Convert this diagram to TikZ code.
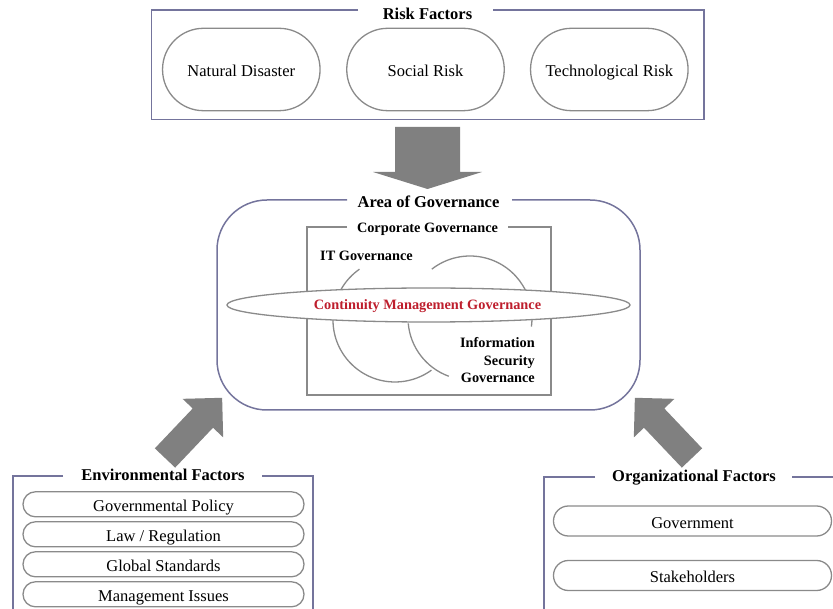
\documentclass[tikz,border=0pt]{standalone}
\usepackage{fontspec}
\setmainfont{Liberation Serif}
\usetikzlibrary{shapes.geometric}
\definecolor{framec}{HTML}{74749C}
\definecolor{linec}{HTML}{8A8A8A}
\definecolor{arrowc}{HTML}{808080}
\definecolor{cmgred}{HTML}{BE1E2D}
\begin{document}
\begin{tikzpicture}[x=1pt,y=-1pt,
  bluframe/.style={draw=framec, line width=1.5pt},
  grayline/.style={draw=linec, line width=1.3pt},
  frametitle/.style={font=\fontsize{16.5}{19}\selectfont\bfseries, inner sep=0pt, anchor=base},
  innerlabel/.style={font=\fontsize{14.3}{17}\selectfont\bfseries, inner sep=0pt},
  pillbase/.style={draw=linec, line width=1.3pt, inner sep=0pt, text height=14pt, text depth=0pt, font=\fontsize{16.5}{19}\selectfont},
  riskpill/.style={pillbase, minimum width=157.5pt, minimum height=82.4pt, rounded corners=41pt},
  envpill/.style={pillbase, minimum width=281pt, minimum height=25pt, rounded corners=12.4pt},
  orgpill/.style={pillbase, minimum width=278pt, minimum height=30pt, rounded corners=14.9pt},
  blockarrow/.style={fill=arrowc, draw=none}
]
\useasboundingbox (0,0) rectangle (833,609);

% ---------- Risk Factors ----------
\draw[bluframe] (358,10) -- (151.5,10) -- (151.5,119.5) -- (704,119.5) -- (704,10) -- (493,10);
\node[frametitle] (riskt) at (427.5,20) {Risk Factors};
\node[riskpill] (nd) at (241.3,69.5) {Natural Disaster};
\node[riskpill] (sr) at (425.5,69.5) {Social Risk};
\node[riskpill] (tr) at (609.3,69.5) {Technological Risk};

% ---------- block arrows ----------
\begin{scope}[shift={(427.5,127)}, rotate=-90]
  \fill[blockarrow] (0,-32.5) -- (45,-32.5) -- (45,-54.5) -- (62,0) -- (45,54.5) -- (45,32.5) -- (0,32.5) -- cycle;
\end{scope}
\begin{scope}[shift={(165,458)}, rotate=46.5]
  \fill[blockarrow] (0,-14) -- (55,-14) -- (55,-28) -- (83,0) -- (55,28) -- (55,14) -- (0,14) -- cycle;
\end{scope}
\begin{scope}[shift={(692,458)}, rotate=133.5]
  \fill[blockarrow] (0,-14) -- (55,-14) -- (55,-28) -- (83,0) -- (55,28) -- (55,14) -- (0,14) -- cycle;
\end{scope}

% ---------- Area of Governance ----------
\draw[bluframe, rounded corners=50pt] (347,200) -- (217,200) -- (217,410) -- (640,410) -- (640,200) -- (512,200);
\node[frametitle] (govt) at (428.5,207.5) {Area of Governance};

\draw[grayline] (347,227) -- (307,227) -- (307,395) -- (551,395) -- (551,227) -- (508,227);
\node[innerlabel, anchor=base] (corp) at (427.5,232.5) {Corporate Governance};

% circles (IT / Information Security)
\draw[grayline] ([shift={(125:62pt)}]395,320) arc[start angle=125, end angle=306, radius=62pt];
\draw[grayline] ([shift={(-8:62pt)}]470,318) arc[start angle=-8, end angle=128, radius=62pt];
\draw[grayline] ([shift={(185:62pt)}]470,318) arc[start angle=185, end angle=250, radius=62pt];

\node[ellipse, draw=linec, line width=1.3pt, fill=white, minimum width=403pt, minimum height=34pt, inner sep=0pt] (cmg) at (428.5,305) {};
\node[innerlabel, anchor=base, text=cmgred] (cmgt) at (427.5,310) {Continuity Management Governance};

\node[innerlabel, anchor=base west] (itg) at (320,261) {IT Governance};
\node[innerlabel, anchor=base east] (isg1) at (535,348) {Information};
\node[innerlabel, anchor=base east] (isg2) at (535,365.5) {Security};
\node[innerlabel, anchor=base east] (isg3) at (535,383) {Governance};

% ---------- Environmental Factors ----------
\draw[bluframe] (63,476) -- (13,476) -- (13,612);
\draw[bluframe] (262,476) -- (313,476) -- (313,612);
\node[frametitle] (envt) at (163,480.5) {Environmental Factors};
\node[envpill] (gp) at (163.5,504.3) {Governmental Policy};
\node[envpill] (lr) at (163.5,534.3) {Law / Regulation};
\node[envpill] (gs) at (163.5,564.3) {Global Standards};
\node[envpill] (mi) at (163.5,594.3) {Management Issues};

% ---------- Organizational Factors ----------
\draw[bluframe] (595,477) -- (544,477) -- (544,612);
\draw[bluframe] (792,477) -- (836,477);
\node[frametitle] (orgt) at (694,481.5) {Organizational Factors};
\node[orgpill] (gov) at (692.5,521) {Government};
\node[orgpill] (sh) at (692.5,575.5) {Stakeholders};
\end{tikzpicture}
\end{document}
